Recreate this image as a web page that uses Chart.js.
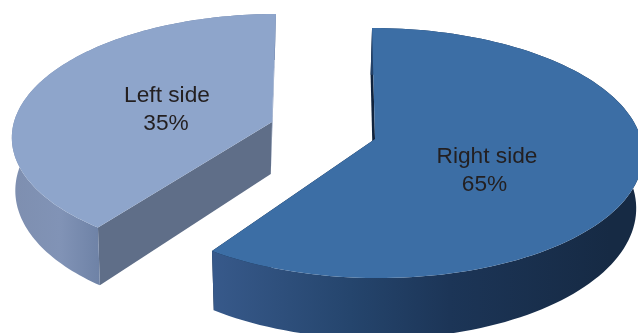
<!DOCTYPE html>
<html>
<head>
<meta charset="utf-8">
<style>
    html, body { margin: 0; padding: 0; background: #fff; }
    canvas { display: block; }
</style>
<script src="https://cdn.jsdelivr.net/npm/chart.js@4/dist/chart.umd.js"></script>
</head>
<body>
<canvas id="myChart" width="638" height="333"></canvas>
<script>
// chart data
const sides = ['Right side', 'Left side'];
const shares = [65, 35];
const faceColors = ['#3c6ea5', '#8ea5cb'];

// how each exploded slice sits on the page: plan circle -> screen
const views = [
    {a: 266, b: 38.7, c: 375, d: -107.9, e: 139, xv: 300, k: 0.02, cutAt: 214.5, label: [487, 163, 484.5],
        cut: '#10233d', back: '#10233d',
        rim: [[215, '#37598a'], [350, '#25456d'], [450, '#1c3557'], [610, '#162a44']]},
    {a: 258, b: 34.9, c: 272, d: -106.4, e: 122, xv: 205, k: 0.018, cutAt: 216.9, label: [167, 102, 166],
        cut: '#5f6e88', back: '#7f93b8',
        rim: [[15, '#7e8fb0'], [60, '#8193b6'], [100, '#6e82a6']]}
];
const perspective = 0.112;

// library angle (radians, 0 = 3 o'clock) -> degrees clockwise from 12 o'clock,
// bent a little because the cut in the picture is not quite at 65% of the turn
function planAngle(angle, split, cutAt) {
    const deg = (angle + Math.PI / 2) * 180 / Math.PI;
    if (deg <= split) {
        return deg * cutAt / split;
    }
    return cutAt + (deg - split) * (360 - cutAt) / (360 - split);
}

function project(view, theta, r) {
    const rad = theta * Math.PI / 180;
    const u = Math.sin(rad) * r;
    const v = Math.cos(rad) * r;
    const w = 1 + perspective * v;
    return {x: (view.a * u + view.b * v + view.c) / w, y: (view.d * v + view.e) / w};
}

// same point at the bottom of the slab
function drop(view, p) {
    return {
        x: p.x + (view.xv - p.x) * view.k,
        y: p.y + 52 + 0.056 * (p.y - 122)
    };
}

function trace(ctx, points) {
    ctx.beginPath();
    points.forEach((p, i) => i ? ctx.lineTo(p.x, p.y) : ctx.moveTo(p.x, p.y));
    ctx.closePath();
}

const slab = {
    id: 'slab',
    beforeDatasetDraw(chart, args) {
        const ctx = chart.ctx;
        const arcs = args.meta.data;
        const split = (arcs[0].endAngle + Math.PI / 2) * 180 / Math.PI;

        // left slice goes first, then the right one
        for (let i = arcs.length - 1; i >= 0; i--) {
            const arc = arcs[i];
            const view = views[i];
            const from = planAngle(arc.startAngle, split, view.cutAt);
            const to = planAngle(arc.endAngle, split, view.cutAt);

            const edge = [];
            for (let s = 0; s <= 120; s++) {
                edge.push(project(view, from + (to - from) * s / 120, 1));
            }
            const apex = project(view, 0, 0);
            const lower = edge.map(p => drop(view, p));
            const first = edge[0];
            const last = edge[edge.length - 1];
            const top = i === 0 ? first : last;
            const low = i === 0 ? last : first;

            ctx.save();

            // the cut walls
            ctx.fillStyle = view.back;
            trace(ctx, [top, apex, drop(view, apex), drop(view, top)]);
            ctx.fill();
            ctx.fillStyle = view.cut;
            trace(ctx, [low, apex, drop(view, apex), drop(view, low)]);
            ctx.fill();

            // outer rim
            const x0 = view.rim[0][0];
            const span = view.rim[view.rim.length - 1][0] - x0;
            const grad = ctx.createLinearGradient(x0, 0, x0 + span, 0);
            view.rim.forEach(stop => grad.addColorStop((stop[0] - x0) / span, stop[1]));
            ctx.fillStyle = grad;
            trace(ctx, edge.concat(lower.slice().reverse()));
            ctx.fill();

            // top face
            ctx.fillStyle = arc.options.backgroundColor;
            trace(ctx, [apex].concat(edge));
            ctx.fill();

            // label
            ctx.fillStyle = '#231f20';
            ctx.font = '22.7px "Liberation Sans", Arial, sans-serif';
            ctx.textAlign = 'center';
            ctx.textBaseline = 'alphabetic';
            ctx.fillText(sides[i], view.label[0], view.label[1]);
            ctx.fillText(shares[i] + '%', view.label[2], view.label[1] + 28);

            ctx.restore();
        }
        return false;
    }
};

new Chart(document.querySelector('#myChart'), {
    type: 'pie',
    data: {
        labels: sides,
        datasets: [{
            data: shares,
            backgroundColor: faceColors,
            borderWidth: 0
        }]
    },
    options: {
        responsive: false,
        animation: false,
        plugins: {
            legend: {display: false},
            tooltip: {enabled: false}
        }
    },
    plugins: [slab]
});
</script>
</body>
</html>
